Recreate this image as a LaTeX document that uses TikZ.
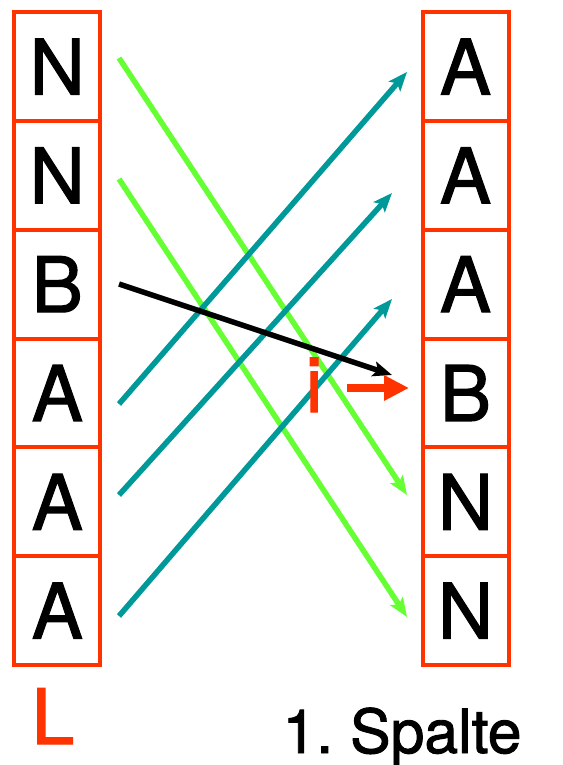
\documentclass[tikz,border=0pt]{standalone}
\usepackage{fontspec}
\setmainfont{TeX Gyre Heros}[FakeBold=1.5]
\usepackage{tikz}
\usetikzlibrary{arrows.meta}
\definecolor{rotorange}{RGB}{255,51,0}
\definecolor{hellgruen}{RGB}{102,255,51}
\definecolor{petrol}{RGB}{0,153,153}
\tikzset{
  zelle/.style={draw=rotorange,line width=4bp,minimum width=86bp,minimum height=108.8bp,inner sep=0pt,
                font=\fontsize{77}{80}\selectfont},
  pfeil/.style={line width=5.5bp,-{Stealth[length=19bp,width=15bp,inset=4bp]}},
  gruenpf/.style={pfeil,hellgruen},
  petrolpf/.style={pfeil,petrol},
  schwarzpf/.style={pfeil,black},
  dickpf/.style={line width=8bp,rotorange,-{Triangle[length=25bp,width=24bp]}},
  marke/.style={text=rotorange,font=\fontsize{77}{80}\selectfont,inner sep=0pt,anchor=base},
}

\begin{document}
\begin{tikzpicture}[x=1bp,y=-1bp]
  \useasboundingbox (0,0) rectangle (563,765);
  % linke Spalte L
  \node[zelle] (l1) at (57.3,66.6) {N};
  \node[zelle] (l2) at (57.3,175.4) {N};
  \node[zelle] (l3) at (57.3,284.2) {B};
  \node[zelle] (l4) at (57.3,393.0) {A};
  \node[zelle] (l5) at (57.3,501.8) {A};
  \node[zelle] (l6) at (57.3,610.6) {A};
  % rechte Spalte
  \node[zelle] (r1) at (465.5,66.6) {A};
  \node[zelle] (r2) at (465.5,175.4) {A};
  \node[zelle] (r3) at (465.5,284.2) {A};
  \node[zelle] (r4) at (465.5,393.0) {B};
  \node[zelle] (r5) at (465.5,501.8) {N};
  \node[zelle] (r6) at (465.5,610.6) {N};
  % Anfangs- und Endpunkte der Pfeile
  \coordinate (a1) at (119,58);   \coordinate (e1) at (407,495);
  \coordinate (a2) at (119,179);  \coordinate (e2) at (407,617);
  \coordinate (a3) at (119,284);  \coordinate (e3) at (392,375);
  \coordinate (a4) at (119,404);  \coordinate (e4) at (407,72);
  \coordinate (a5) at (119,495);  \coordinate (e5) at (392,193);
  \coordinate (a6) at (119,616);  \coordinate (e6) at (392,299);
  \draw[gruenpf] (a1) -- (e1);
  \draw[gruenpf] (a2) -- (e2);
  \draw[petrolpf] (a4) -- (e4);
  \draw[petrolpf] (a5) -- (e5);
  \draw[petrolpf] (a6) -- (e6);
  \draw[schwarzpf] (a3) -- (e3);
  % Index i
  \node[marke] (i) at (314,412) {i};
  \coordinate (ia) at (347,388);
  \coordinate (ie) at (409,388);
  \draw[dickpf] (ia) -- (ie);
  \node[marke] (L) at (53,744) {L};
  \node[anchor=base,inner sep=0pt,font=\fontsize{61}{66}\selectfont] (sp) at (402,753) {1.\ Spalte};
\end{tikzpicture}
\end{document}
